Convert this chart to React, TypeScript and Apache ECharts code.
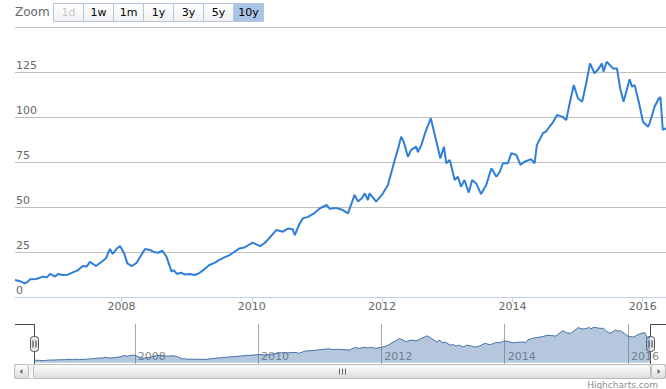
import React, { useEffect, useRef } from "react";
import * as echarts from "echarts";

const dates = [
  "2006-05-14","2006-06-11","2006-07-08","2006-07-25","2006-08-06","2006-09-09","2006-10-18","2006-11-10","2006-11-26","2006-12-25",
  "2007-01-10","2007-02-07","2007-03-06","2007-04-03","2007-05-01","2007-05-29","2007-06-21","2007-07-08","2007-08-11","2007-09-12",
  "2007-10-06","2007-10-28","2007-11-13","2007-12-02","2007-12-24","2008-01-15","2008-02-03","2008-02-28","2008-03-26","2008-04-19",
  "2008-05-12","2008-06-09","2008-07-07","2008-07-25","2008-08-18","2008-09-09","2008-10-08","2008-10-20","2008-11-06","2008-11-29",
  "2008-12-21","2009-01-18","2009-02-15","2009-03-13","2009-04-11","2009-05-08","2009-06-05","2009-07-03","2009-07-31","2009-08-29",
  "2009-09-24","2009-10-23","2009-11-20","2010-01-05","2010-02-16","2010-03-14","2010-04-11","2010-05-18","2010-06-24","2010-07-22",
  "2010-08-18","2010-08-30","2010-09-22","2010-10-14","2010-11-12","2010-12-16","2011-01-18","2011-02-25","2011-03-14","2011-04-17",
  "2011-05-21","2011-06-24","2011-07-31","2011-08-19","2011-09-11","2011-09-26","2011-10-14","2011-10-23","2011-11-29","2012-01-06",
  "2012-02-03","2012-03-12","2012-03-30","2012-04-17","2012-05-02","2012-05-25","2012-06-12","2012-07-11","2012-07-20","2012-08-08",
  "2012-08-29","2012-09-30","2012-10-23","2012-11-23","2012-12-13","2012-12-26","2013-01-15","2013-02-11","2013-03-01","2013-03-19",
  "2013-04-07","2013-05-01","2013-05-20","2013-06-12","2013-07-09","2013-08-07","2013-09-05","2013-10-03","2013-10-22","2013-11-09",
  "2013-12-07","2013-12-26","2014-01-23","2014-02-15","2014-03-10","2014-04-16","2014-05-05","2014-05-18","2014-06-21","2014-07-08",
  "2014-07-28","2014-08-16","2014-09-08","2014-10-07","2014-10-30","2014-11-18","2014-12-11","2015-01-03","2015-01-27","2015-02-17",
  "2015-03-12","2015-04-06","2015-04-24","2015-05-18","2015-05-26","2015-06-14","2015-07-18","2015-08-10","2015-08-28","2015-09-16",
  "2015-10-20","2015-11-02","2015-11-17","2015-12-12","2016-01-03","2016-01-31","2016-02-09","2016-03-08","2016-04-01","2016-04-10",
  "2016-04-23","2016-05-04","2016-05-11"
];

const prices = [
  9.4, 8.8, 7.6, 8.5, 9.8, 10.0, 11.3, 11.0, 12.8, 11.4,
  12.8, 12.2, 12.4, 13.7, 14.8, 17.2, 17.0, 19.6, 17.2, 19.6,
  21.5, 26.7, 23.9, 26.5, 28.3, 24.5, 18.7, 17.2, 19.0, 23.0,
  26.7, 26.1, 24.8, 24.6, 25.7, 22.4, 14.0, 15.0, 12.8, 13.5,
  12.5, 12.8, 12.2, 13.3, 15.5, 17.8, 19.0, 20.6, 22.0, 23.3,
  25.0, 27.0, 27.5, 30.2, 28.3, 30.0, 33.0, 37.2, 36.3, 38.0,
  37.6, 34.4, 40.0, 43.7, 44.5, 46.5, 49.3, 51.1, 49.0, 49.5,
  48.5, 46.5, 56.7, 53.0, 55.0, 57.6, 53.9, 57.6, 53.0, 57.6,
  62.2, 76.1, 82.0, 89.1, 86.0, 77.9, 81.7, 83.5, 80.5, 84.4,
  91.0, 99.3, 90.0, 77.0, 83.5, 74.3, 76.1, 65.0, 66.8, 61.3,
  65.0, 58.0, 65.0, 63.1, 57.2, 62.2, 71.5, 66.8, 69.6, 74.3,
  74.3, 79.9, 78.9, 73.4, 75.2, 76.5, 74.3, 84.4, 91.0, 91.9,
  94.6, 97.0, 101.1, 100.2, 98.3, 107.6, 117.8, 110.4, 108.5, 118.0,
  129.8, 124.3, 126.1, 129.8, 125.2, 130.7, 127.0, 127.0, 115.9, 108.5,
  120.9, 116.8, 117.8, 107.6, 97.4, 94.6, 96.5, 105.7, 110.4, 111.0,
  92.8, 93.7, 93.0
];

const tickYears = [2008, 2010, 2012, 2014, 2016];
const yMin = 0;
const yMax = 150;
const yInterval = 25;
const zoomButtons = ["1d", "1w", "1m", "1y", "3y", "5y", "10y"];
const disabledButton = "1d";
const selectedButton = "10y";

const FONT = "DejaVu Sans, Verdana, sans-serif";

function ts(d: string): number {
  const [y, m, dd] = d.split("-").map(Number);
  return Date.UTC(y, m - 1, dd);
}

export default function App() {
  const ref = useRef<HTMLDivElement>(null);

  useEffect(() => {
    if (!ref.current) return;
    const chart = echarts.init(ref.current, undefined, { renderer: "svg" });
    const seriesData = dates.map((d, i) => [ts(d), prices[i]]);
    const yearTicks = tickYears.map((y) => Date.UTC(y, 0, 1));
    const xMin = ts(dates[0]);
    const xMax = ts(dates[dates.length - 1]);
    const yearFmt = (v: number) => String(new Date(v).getUTCFullYear());

    const btnGrad = () =>
      new echarts.graphic.LinearGradient(0, 0, 0, 1, [
        { offset: 0, color: "#ffffff" },
        { offset: 1, color: "#f0f0f0" },
      ]);
    const scrollGrad = () =>
      new echarts.graphic.LinearGradient(0, 0, 0, 1, [
        { offset: 0, color: "#ffffff" },
        { offset: 1, color: "#dcdcdc" },
      ]);

    const graphics: any[] = [];
    graphics.push({
      type: "text",
      x: 15,
      y: 12,
      style: { text: "Zoom", fill: "#666666", fontSize: 12, fontFamily: FONT, align: "left", verticalAlign: "middle" },
    });
    zoomButtons.forEach((b, i) => {
      const x = 53 + i * 30;
      graphics.push({
        type: "rect",
        shape: { x: x + 0.5, y: 3.5, width: 30, height: 18 },
        style: {
          fill: b === selectedButton ? "#a9c3e6" : btnGrad(),
          stroke: "#b7c5d8",
          lineWidth: 1,
        },
      });
      graphics.push({
        type: "text",
        x: x + 15.5,
        y: 12.5,
        style: {
          text: b,
          fill: b === disabledButton ? "#cccccc" : "#000000",
          fontSize: 11,
          fontFamily: FONT,
          align: "center",
          verticalAlign: "middle",
        },
      });
    });

    graphics.push({
      type: "rect",
      shape: { x: 14.5, y: 364.5, width: 651, height: 14 },
      style: { fill: "#f4f4f4", stroke: "#cccccc", lineWidth: 1 },
    });
    graphics.push({
      type: "rect",
      shape: { x: 14.5, y: 364.5, width: 14, height: 14, r: 3 },
      style: { fill: scrollGrad(), stroke: "#bbbbbb", lineWidth: 1 },
    });
    graphics.push({
      type: "polygon",
      shape: { points: [[19.5, 371.5], [22.5, 369], [22.5, 374]] },
      style: { fill: "#666666" },
    });
    graphics.push({
      type: "rect",
      shape: { x: 651.5, y: 364.5, width: 14, height: 14, r: 3 },
      style: { fill: scrollGrad(), stroke: "#bbbbbb", lineWidth: 1 },
    });
    graphics.push({
      type: "polygon",
      shape: { points: [[660.5, 371.5], [657.5, 369], [657.5, 374]] },
      style: { fill: "#666666" },
    });
    graphics.push({
      type: "rect",
      shape: { x: 33.5, y: 364.5, width: 617, height: 14, r: 3 },
      style: { fill: scrollGrad(), stroke: "#bbbbbb", lineWidth: 1 },
    });
    [339.5, 342.5, 345.5].forEach((x) =>
      graphics.push({
        type: "line",
        shape: { x1: x, y1: 368.5, x2: x, y2: 374.5 },
        style: { stroke: "#666666", lineWidth: 1 },
      })
    );

    graphics.push({
      type: "polyline",
      shape: { points: [[15, 324.5], [34.5, 324.5], [34.5, 364]] },
      style: { stroke: "#444444", lineWidth: 1, fill: "none" },
    });
    graphics.push({
      type: "polyline",
      shape: { points: [[650.5, 364], [650.5, 324.5], [666, 324.5]] },
      style: { stroke: "#444444", lineWidth: 1, fill: "none" },
    });
    [34.5, 650.5].forEach((cx) => {
      graphics.push({
        type: "rect",
        shape: { x: cx - 4, y: 336.5, width: 8, height: 15, r: 3 },
        style: { fill: "#ebe7e8", stroke: "#555555", lineWidth: 1 },
      });
      [cx - 1.5, cx + 1.5].forEach((lx) =>
        graphics.push({
          type: "line",
          shape: { x1: lx, y1: 340.5, x2: lx, y2: 347.5 },
          style: { stroke: "#333333", lineWidth: 1 },
        })
      );
    });
    graphics.push({
      type: "text",
      x: 658,
      y: 385,
      style: { text: "Highcharts.com", fill: "#909090", fontSize: 9, fontFamily: FONT, align: "right", verticalAlign: "middle" },
    });

    const option: any = {
      animation: false,
      backgroundColor: "#ffffff",
      textStyle: { fontFamily: FONT },
      grid: [
        { left: 15, top: 27, width: 651, height: 270, containLabel: false },
        { left: 34, top: 324, width: 616, height: 40, containLabel: false },
      ],
      xAxis: [
        {
          type: "value",
          gridIndex: 0,
          min: xMin,
          max: xMax,
          axisLine: { show: true, lineStyle: { color: "#C0D0E0", width: 1 } },
          axisTick: { show: true, length: 5, lineStyle: { color: "#C0D0E0" }, customValues: yearTicks },
          axisLabel: {
            show: true,
            customValues: yearTicks,
            formatter: yearFmt,
            color: "#666666",
            fontSize: 11,
            fontFamily: FONT,
            margin: 4,
            showMinLabel: true,
            showMaxLabel: true,
          },
          splitLine: { show: false },
        },
        {
          type: "value",
          gridIndex: 1,
          min: xMin,
          max: xMax,
          axisLine: { show: false },
          axisTick: { show: false, customValues: yearTicks },
          axisLabel: {
            show: true,
            inside: true,
            customValues: yearTicks,
            formatter: yearFmt,
            color: "#888888",
            fontSize: 11,
            fontFamily: FONT,
            align: "left",
            padding: [0, 0, 0, 3],
            margin: 2,
          },
          splitLine: { show: true, lineStyle: { color: "#a8a8a8", width: 1 } },
        },
      ],
      yAxis: [
        {
          type: "value",
          gridIndex: 0,
          min: yMin,
          max: yMax,
          interval: yInterval,
          axisLine: { show: false },
          axisTick: { show: false },
          axisLabel: {
            inside: true,
            showMaxLabel: false,
            color: "#666666",
            fontSize: 11,
            fontFamily: FONT,
            margin: 1,
            verticalAlign: "bottom",
            padding: [0, 0, 1, 0],
          },
          splitLine: { show: true, lineStyle: { color: "#C0C0C0", width: 1 } },
        },
        {
          type: "value",
          gridIndex: 1,
          min: (v: any) => v.min - 0.1 * (v.max - v.min),
          max: (v: any) => v.max + 0.1 * (v.max - v.min),
          show: false,
          splitLine: { show: false },
        },
      ],
      series: [
        {
          type: "line",
          xAxisIndex: 0,
          yAxisIndex: 0,
          data: seriesData,
          showSymbol: false,
          symbol: "none",
          lineStyle: { color: "#2f7ed8", width: 2 },
          z: 3,
        },
        {
          type: "line",
          xAxisIndex: 1,
          yAxisIndex: 1,
          data: seriesData,
          showSymbol: false,
          symbol: "none",
          lineStyle: { color: "#4572A7", width: 1 },
          areaStyle: { color: "#4572A7", opacity: 0.4 },
          z: 2,
        },
      ],
      graphic: { elements: graphics },
    };

    chart.setOption(option);
    return () => chart.dispose();
  }, []);

  return (
    <div
      ref={ref}
      style={{ position: "fixed", left: 0, top: 0, width: 666, height: 389, background: "#fff" }}
    />
  );
}
